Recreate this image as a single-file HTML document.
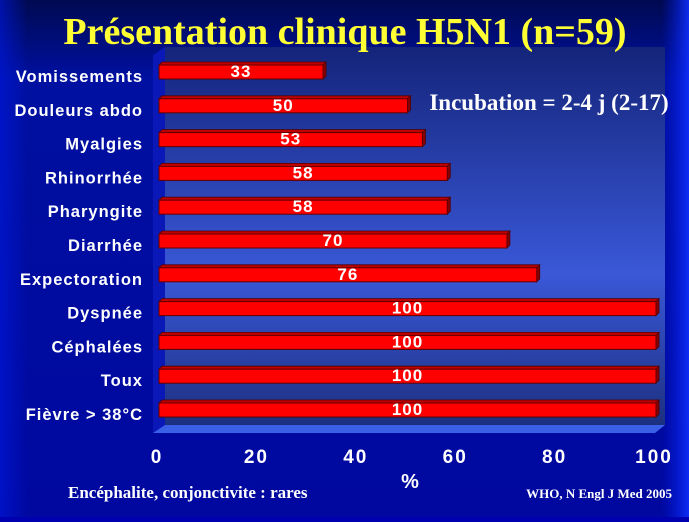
<!DOCTYPE html>
<html><head><meta charset="utf-8"><style>
html,body{margin:0;padding:0;}
body{width:689px;height:517px;overflow:hidden;background:#0000b0;font-family:"Liberation Sans",sans-serif;}
</style></head><body>
<svg width="689" height="517" viewBox="0 0 689 517" xmlns="http://www.w3.org/2000/svg" id="svg">
<defs>
<linearGradient id="bg" x1="0" y1="0" x2="0" y2="1">
<stop offset="0" stop-color="#000a50"/><stop offset="0.15" stop-color="#0010a0"/><stop offset="1" stop-color="#0008a0"/>
</linearGradient>
<linearGradient id="bgx" x1="0" y1="0" x2="1" y2="0">
<stop offset="0" stop-color="#0018e0" stop-opacity="0.6"/><stop offset="0.04" stop-color="#0018e0" stop-opacity="0"/>
<stop offset="0.96" stop-color="#0018e0" stop-opacity="0"/><stop offset="1" stop-color="#1030ff" stop-opacity="0.9"/>
</linearGradient>
<linearGradient id="panel" x1="0" y1="0" x2="0" y2="1">
<stop offset="0" stop-color="#14247a"/><stop offset="0.6" stop-color="#3a58d8"/><stop offset="1" stop-color="#1c3080"/>
</linearGradient>
</defs>
<rect x="0" y="0" width="689" height="517" fill="url(#bg)"/>
<rect x="0" y="0" width="689" height="517" fill="url(#bgx)"/>
<polygon points="153,55 165,47 165,425 153,433" fill="#0a18b8"/>
<rect x="165" y="47" width="500" height="378" fill="url(#panel)"/>
<polygon points="153,433 165,425 665,425 655,433" fill="#3a60e8"/>
<text x="345" y="44" text-anchor="middle" font-family="'Liberation Serif',serif" font-weight="bold" font-size="38" fill="#ffff33">Présentation clinique H5N1 (n=59)</text>
<text x="549" y="110" text-anchor="middle" font-family="'Liberation Serif',serif" font-weight="bold" font-size="23" fill="#ffffff">Incubation = 2-4 j (2-17)</text>
<text x="410" y="488" text-anchor="middle" font-weight="bold" font-size="20" fill="#ffffff">%</text>
<text x="68" y="498" font-family="'Liberation Serif',serif" font-weight="bold" font-size="17" fill="#ffffff">Encéphalite, conjonctivite : rares</text>
<text x="672" y="498" text-anchor="end" font-family="'Liberation Serif',serif" font-weight="bold" font-size="13" fill="#ffffff">WHO, N Engl J Med 2005</text>
<g id="bars"></g>
<g id="axis"></g>
</svg>
<script>
const categories=["Vomissements","Douleurs abdo","Myalgies","Rhinorrhée","Pharyngite","Diarrhée","Expectoration","Dyspnée","Céphalées","Toux","Fièvre > 38°C"];
const values=[33,50,53,58,58,70,76,100,100,100,100];
const ticks=[0,20,40,60,80,100];
const NS="http://www.w3.org/2000/svg";
const x=v=>159+v*4.97;
const y=i=>72+i*33.8;
const bh=14;
const g=document.getElementById('bars'),ax=document.getElementById('axis');
function mk(tag,attrs,parent){const e=document.createElementNS(NS,tag);for(const k in attrs)e.setAttribute(k,attrs[k]);parent.appendChild(e);return e;}
categories.forEach((c,i)=>{
 const cy=y(i),x0=x(0),x1=x(values[i]);
 const lab=mk('text',{x:143,y:cy+10,'text-anchor':'end','font-weight':'bold','font-size':'16.5','letter-spacing':'1',fill:'#fff'},ax);
 
 
 lab.textContent=c;
 const top=mk('polygon',{points:`${x0},${cy-bh/2} ${x0+3},${cy-bh/2-3} ${x1+3},${cy-bh/2-3} ${x1},${cy-bh/2}`,fill:'#c00000',stroke:'#500000','stroke-width':0.8},g);
 
 
 const side=mk('polygon',{points:`${x1},${cy-bh/2} ${x1+3},${cy-bh/2-3} ${x1+3},${cy+bh/2-3} ${x1},${cy+bh/2}`,fill:'#8a0000',stroke:'#500000','stroke-width':0.8},g);
 
 
 const r=mk('rect',{x:x0,y:cy-bh/2,width:x1-x0,height:bh,fill:'#ff0000',stroke:'#600000','stroke-width':1},g);
 
 
 const t=mk('text',{x:(x0+x1)/2,y:cy+5,'text-anchor':'middle','font-weight':'bold','font-size':'17','letter-spacing':'1',fill:'#fff'},g);
 
 
 t.textContent=values[i];
});
ticks.forEach(v=>{
 const t=mk('text',{x:x(v)-2,y:463,'text-anchor':'middle','font-weight':'bold','font-size':'19','letter-spacing':'2',fill:'#fff'},ax);
 
 
 t.textContent=v;
});
</script>
</body></html>
